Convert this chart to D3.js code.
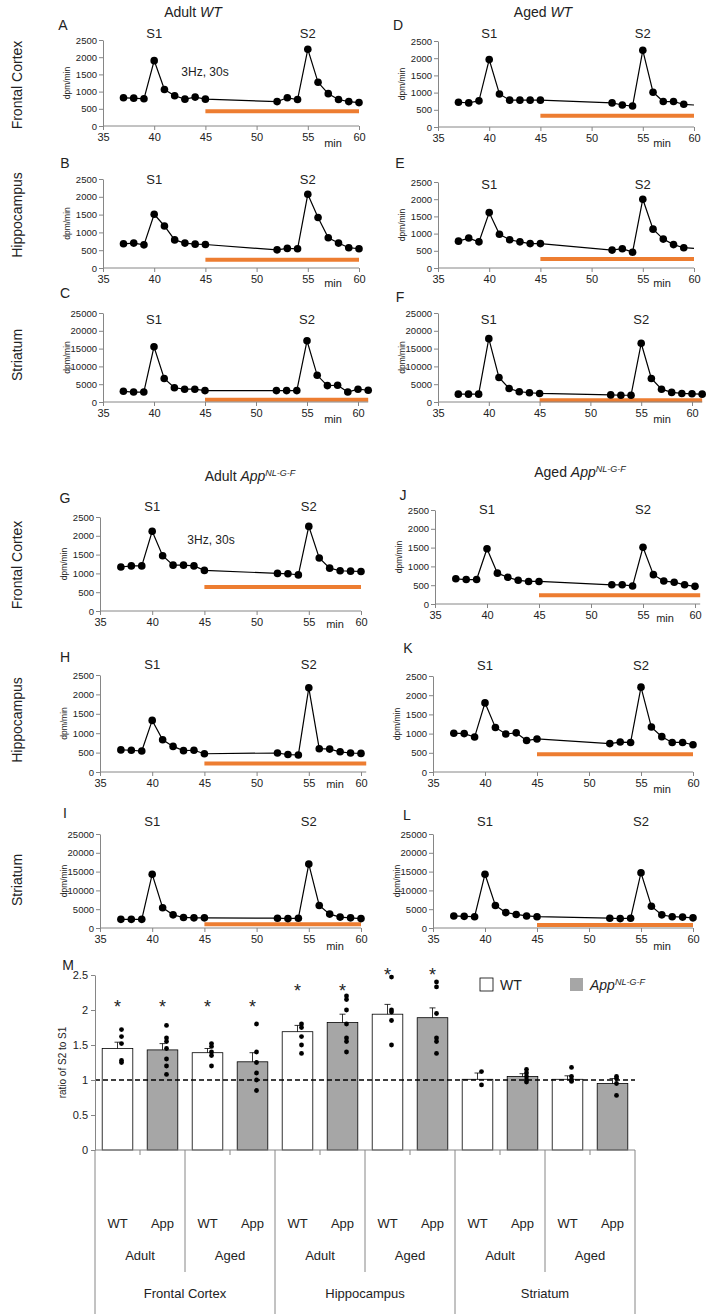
<!DOCTYPE html>
<html>
<head>
<meta charset="utf-8">
<script src="https://cdn.jsdelivr.net/npm/d3@7"></script>
<style>
  body { margin: 0; background: #fff; }
  svg { font-family: "Liberation Sans", Arial, sans-serif; }
</style>
</head>
<body>
<div class="figure"></div>
<script>
// sampling times (min)
const times = [37, 38, 39, 40, 41, 42, 43, 44, 45, 52, 53, 54, 55, 56, 57, 58, 59, 60];
const timesLong = [37, 38, 39, 40, 41, 42, 43, 44, 45, 52, 53, 54, 55, 56, 57, 58, 59, 60, 61];
const xTicks = [35, 40, 45, 50, 55, 60];
const yTicksCtx = [0, 500, 1000, 1500, 2000, 2500];
const yTicksStr = [0, 5000, 10000, 15000, 20000, 25000];

// dpm/min per fraction
const adultWtFC = [820, 810, 790, 1900, 1060, 880, 780, 840, 780, 710, 820, 770, 2230, 1270, 940, 770, 710, 680];
const agedWtFC = [720, 700, 760, 1960, 960, 780, 780, 780, 780, 700, 640, 610, 2230, 1010, 740, 740, 660, 640];
const adultWtHip = [680, 700, 650, 1510, 1180, 790, 700, 670, 660, 510, 550, 540, 2070, 1420, 850, 700, 570, 540];
const agedWtHip = [780, 870, 760, 1610, 980, 820, 760, 710, 710, 520, 560, 460, 2000, 1130, 840, 680, 590, 570];
const adultWtStr = [3000, 2800, 2800, 15500, 6600, 4000, 3600, 3600, 3200, 3200, 3200, 3200, 17200, 7500, 4600, 4700, 2800, 3600, 3300];
const agedWtStr = [2200, 2200, 2200, 17800, 6900, 3800, 2900, 2600, 2400, 2000, 1900, 1900, 16500, 6600, 3600, 2700, 2400, 2300, 2200];
const adultAppFC = [1170, 1200, 1200, 2120, 1470, 1220, 1220, 1200, 1080, 1000, 990, 960, 2250, 1410, 1140, 1070, 1060, 1050];
const agedAppFC = [670, 650, 650, 1470, 820, 710, 630, 600, 600, 510, 510, 480, 1510, 780, 610, 580, 510, 470];
const adultAppHip = [570, 560, 540, 1330, 830, 660, 550, 560, 470, 490, 450, 440, 2170, 600, 590, 520, 490, 480];
const agedAppHip = [1010, 1000, 910, 1800, 1160, 990, 1020, 820, 860, 740, 780, 770, 2210, 1170, 920, 770, 770, 710];
const adultAppStr = [2300, 2300, 2300, 14300, 5400, 3500, 2800, 2700, 2700, 2600, 2500, 2600, 17000, 6000, 3700, 2900, 2700, 2500];
const agedAppStr = [3200, 3100, 3000, 14300, 6000, 4100, 3600, 3200, 3000, 2600, 2500, 2600, 14700, 5800, 3500, 3000, 2900, 2700];

// stimulation bar level (dpm/min)
const orangeLevels = [430, 330, 230, 260, 600, 500, 640, 230, 220, 460, 1000, 800];

// panel M
const groupRegions = ["Frontal Cortex", "Hippocampus", "Striatum"];
const groupAges = ["Adult", "Aged"];
const groupGenotypes = ["WT", "App"];
const ratioMeans = [1.45, 1.43, 1.39, 1.26, 1.69, 1.82, 1.94, 1.89, 1.01, 1.05, 1.01, 0.95];
const ratioSem = [0.09, 0.09, 0.06, 0.13, 0.09, 0.12, 0.14, 0.14, 0.09, 0.04, 0.05, 0.07];
const ratioPoints = [
  [1.72, 1.62, 1.52, 1.28, 1.25],
  [1.78, 1.6, 1.55, 1.45, 1.3, 1.2, 1.08],
  [1.52, 1.48, 1.4, 1.35, 1.2],
  [1.8, 1.4, 1.25, 1.1, 1.0, 0.85],
  [1.8, 1.75, 1.62, 1.5, 1.38],
  [2.2, 2.15, 2.0, 1.8, 1.6, 1.55, 1.4],
  [2.47, 2.0, 1.97, 1.85, 1.5],
  [2.4, 2.33, 1.95, 1.6, 1.55, 1.38],
  [1.12, 0.93],
  [1.15, 1.1, 1.05, 1.0, 0.97],
  [1.18, 1.05, 1.0, 0.98],
  [1.05, 1.02, 0.95, 0.78]
];
const starLevels = [2.08, 2.08, 2.08, 2.08, 2.32, 2.32, 2.55, 2.55, null, null, null, null];
const yTicksRatio = [0, 0.5, 1, 1.5, 2, 2.5];

const W = 709, H = 1314;
const AXIS = "#868686", TXT = "#222", ORANGE = "#ED7D31";

const svg = d3.select(".figure").append("svg")
  .attr("width", W).attr("height", H)
  .attr("viewBox", `0 0 ${W} ${H}`);
svg.append("rect").attr("width", W).attr("height", H).attr("fill", "#fff");

// layout of the twelve time-course panels
const panels = [
  { id: "A", data: adultWtFC, t: times, ticks: yTicksCtx, left: 103, right: 359, top: 40, bottom: 126, xMax: 60, orange: orangeLevels[0], sY: 38, letter: [63, 30], min: [333, 147], note: [205, 76] },
  { id: "D", data: agedWtFC, t: times, ticks: yTicksCtx, left: 438, right: 694, top: 41, bottom: 127, xMax: 60, orange: orangeLevels[1], sY: 38, letter: [398, 30], min: [662, 147], bare: true },
  { id: "B", data: adultWtHip, t: times, ticks: yTicksCtx, left: 103, right: 359, top: 179, bottom: 268, xMax: 60, orange: orangeLevels[2], sY: 184, letter: [65, 168], min: [333, 287] },
  { id: "E", data: agedWtHip, t: times, ticks: yTicksCtx, left: 438, right: 694, top: 182, bottom: 268, xMax: 60, orange: orangeLevels[3], sY: 189, letter: [400, 168], min: [662, 287], bare: true },
  { id: "C", data: adultWtStr, t: timesLong, ticks: yTicksStr, left: 103, right: 358, top: 313, bottom: 402, xMax: 61, orange: orangeLevels[4], sY: 324, letter: [65, 298], min: [333, 423] },
  { id: "F", data: agedWtStr, t: timesLong, ticks: yTicksStr, left: 438, right: 692, top: 313, bottom: 402, xMax: 61, orange: orangeLevels[5], sY: 324, letter: [400, 302], min: [662, 423] },
  { id: "G", data: adultAppFC, t: times, ticks: yTicksCtx, left: 100, right: 361, top: 517, bottom: 611, xMax: 60, orange: orangeLevels[6], sY: 511, letter: [65, 503], min: [335, 628], note: [211, 544] },
  { id: "J", data: agedAppFC, t: times, ticks: yTicksCtx, left: 435, right: 695, top: 510, bottom: 604, xMax: 60.5, orange: orangeLevels[7], sY: 514, letter: [403, 500], min: [665, 622] },
  { id: "H", data: adultAppHip, t: times, ticks: yTicksCtx, left: 100, right: 361, top: 675, bottom: 772, xMax: 60.5, orange: orangeLevels[8], sY: 669, letter: [65, 662], min: [335, 788] },
  { id: "K", data: agedAppHip, t: times, ticks: yTicksCtx, left: 433, right: 693, top: 676, bottom: 772, xMax: 60, orange: orangeLevels[9], sY: 670, letter: [408, 653], min: [662, 793] },
  { id: "I", data: adultAppStr, t: times, ticks: yTicksStr, left: 100, right: 361, top: 834, bottom: 928, xMax: 60, orange: orangeLevels[10], sY: 826, letter: [65, 818], min: [335, 950] },
  { id: "L", data: agedAppStr, t: times, ticks: yTicksStr, left: 433, right: 693, top: 834, bottom: 928, xMax: 60, orange: orangeLevels[11], sY: 826, letter: [407, 820], min: [662, 950] }
];

panels.forEach(p => drawTimeCourse(p));
drawHeaders();
drawRatioPanel();

function drawTimeCourse(p) {
  const x = d3.scaleLinear().domain([35, 60]).range([p.left, p.right]);
  const yMax = p.ticks[p.ticks.length - 1];
  const y = d3.scaleLinear().domain([0, yMax]).range([p.bottom, p.top]);
  const g = svg.append("g").attr("class", "panel-" + p.id);

  // stimulation bar
  g.append("line")
    .attr("x1", x(45)).attr("x2", x(p.xMax))
    .attr("y1", y(p.orange)).attr("y2", y(p.orange))
    .attr("stroke", ORANGE).attr("stroke-width", 4);

  const yAxis = d3.axisLeft(y).tickValues(p.ticks).tickSize(4).tickSizeOuter(0).tickPadding(2)
    .tickFormat(d3.format("d"));
  g.append("g")
    .attr("transform", `translate(${p.left},0)`)
    .call(yAxis)
    .call(a => a.select(".domain").attr("stroke", AXIS))
    .call(a => a.selectAll(".tick line").attr("stroke", AXIS))
    .call(a => a.selectAll("text").attr("font-size", 9.5).attr("fill", TXT).attr("font-family", null));

  const xAxis = d3.axisBottom(x).tickValues(xTicks).tickSize(4).tickSizeOuter(0).tickPadding(3);
  g.append("g")
    .attr("transform", `translate(0,${p.bottom})`)
    .call(xAxis)
    .call(a => a.select(".domain").attr("d", `M${p.left},0H${x(p.xMax)}`).attr("stroke", AXIS))
    .call(a => a.selectAll(".tick line").attr("stroke", AXIS))
    .call(a => a.selectAll("text").attr("font-size", 11).attr("fill", TXT).attr("font-family", null));

  const pts = p.data.map((v, i) => [p.t[i], v]);
  const line = d3.line().x(d => x(d[0])).y(d => y(d[1]));
  g.append("path")
    .attr("d", line(pts))
    .attr("fill", "none").attr("stroke", "#000").attr("stroke-width", 1.2);

  const shown = p.bare ? pts.slice(0, -1) : pts;
  g.selectAll("circle")
    .data(shown)
    .enter()
    .append("circle")
    .attr("cx", d => x(d[0]))
    .attr("cy", d => y(d[1]))
    .attr("r", 3.8)
    .attr("fill", "#000");

  // labels
  g.append("text").text(p.id)
    .attr("x", p.letter[0]).attr("y", p.letter[1])
    .attr("text-anchor", "middle").attr("font-size", 14).attr("fill", TXT);
  g.append("text").text("S1")
    .attr("x", x(40)).attr("y", p.sY)
    .attr("text-anchor", "middle").attr("font-size", 13).attr("fill", TXT);
  g.append("text").text("S2")
    .attr("x", x(55)).attr("y", p.sY)
    .attr("text-anchor", "middle").attr("font-size", 13).attr("fill", TXT);
  g.append("text").text("min")
    .attr("x", p.min[0]).attr("y", p.min[1])
    .attr("text-anchor", "middle").attr("font-size", 11).attr("fill", TXT);
  g.append("text").text("dpm/min")
    .attr("transform", `translate(${p.left - 33},${(p.top + p.bottom) / 2}) rotate(-90)`)
    .attr("text-anchor", "middle").attr("font-size", 8.5).attr("fill", TXT);
  if (p.note) {
    g.append("text").text("3Hz, 30s")
      .attr("x", p.note[0]).attr("y", p.note[1])
      .attr("text-anchor", "middle").attr("font-size", 12).attr("fill", TXT);
  }
}

function drawHeaders() {
  const title = (cx, cy, pre, geno, sup) => {
    const t = svg.append("text").attr("x", cx).attr("y", cy)
      .attr("text-anchor", "middle").attr("font-size", 14).attr("fill", TXT);
    t.append("tspan").text(pre + " ");
    t.append("tspan").text(geno).attr("font-style", "italic");
    if (sup) t.append("tspan").text(sup).attr("font-style", "italic")
      .attr("font-size", 9).attr("dy", -5);
  };
  title(193, 17, "Adult", "WT");
  title(543, 17, "Aged", "WT");
  title(250, 481, "Adult", "App", "NL-G-F");
  title(580, 477, "Aged", "App", "NL-G-F");

  const rows = [["Frontal Cortex", 85], ["Hippocampus", 215], ["Striatum", 355],
                ["Frontal Cortex", 565], ["Hippocampus", 720], ["Striatum", 880]];
  rows.forEach(r => {
    svg.append("text").text(r[0])
      .attr("transform", `translate(22,${r[1]}) rotate(-90)`)
      .attr("text-anchor", "middle").attr("font-size", 14).attr("fill", TXT);
  });
}

function drawRatioPanel() {
  const left = 95, right = 635, top = 975, bottom = 1150;
  const g = svg.append("g").attr("class", "panel-M");
  const idx = d3.range(ratioMeans.length);
  const x = d3.scaleBand().domain(idx).range([left, right]).paddingInner(0.32).paddingOuter(0.16);
  const y = d3.scaleLinear().domain([0, 2.5]).range([bottom, top]);

  g.append("text").text("M").attr("x", 68).attr("y", 970)
    .attr("text-anchor", "middle").attr("font-size", 14).attr("fill", TXT);

  g.selectAll("rect.bar")
    .data(ratioMeans)
    .enter()
    .append("rect")
    .attr("class", "bar")
    .attr("x", (d, i) => x(i))
    .attr("y", d => y(d))
    .attr("width", x.bandwidth())
    .attr("height", d => bottom - y(d))
    .attr("fill", (d, i) => i % 2 === 0 ? "#fff" : "#a6a6a6")
    .attr("stroke", "#000").attr("stroke-width", 0.8);

  // error bars (up only)
  g.selectAll("path.err")
    .data(ratioMeans)
    .enter()
    .append("path")
    .attr("class", "err")
    .attr("d", (d, i) => {
      const cx = x(i) + x.bandwidth() / 2;
      return `M${cx},${y(d)}V${y(d + ratioSem[i])}M${cx - 3},${y(d + ratioSem[i])}H${cx + 3}`;
    })
    .attr("stroke", "#000").attr("stroke-width", 0.8).attr("fill", "none");

  const dots = [];
  ratioPoints.forEach((arr, i) => arr.forEach(v => dots.push([i, v])));
  g.selectAll("circle")
    .data(dots)
    .enter()
    .append("circle")
    .attr("cx", d => x(d[0]) + x.bandwidth() / 2 + 4)
    .attr("cy", d => y(d[1]))
    .attr("r", 2.4)
    .attr("fill", "#000");

  // reference line at 1
  g.append("line")
    .attr("x1", left).attr("x2", right)
    .attr("y1", y(1)).attr("y2", y(1))
    .attr("stroke", "#000").attr("stroke-width", 1.3).attr("stroke-dasharray", "5,3");

  // significance marks
  g.selectAll("text.star")
    .data(idx.filter(i => starLevels[i] !== null))
    .enter()
    .append("text")
    .attr("class", "star")
    .text("*")
    .attr("x", i => x(i) + x.bandwidth() / 2)
    .attr("y", i => y(starLevels[i]) + 9)
    .attr("text-anchor", "middle").attr("font-size", 18).attr("fill", TXT);

  const yAxis = d3.axisLeft(y).tickValues(yTicksRatio).tickSize(4).tickSizeOuter(0).tickPadding(3)
    .tickFormat(d => d);
  g.append("g")
    .attr("transform", `translate(${left},0)`)
    .call(yAxis)
    .call(a => a.select(".domain").attr("stroke", AXIS))
    .call(a => a.selectAll(".tick line").attr("stroke", AXIS))
    .call(a => a.selectAll("text").attr("font-size", 11).attr("fill", TXT).attr("font-family", null));

  g.append("text").text("ratio of S2 to S1")
    .attr("transform", `translate(66,${(top + bottom) / 2}) rotate(-90)`)
    .attr("text-anchor", "middle").attr("font-size", 10).attr("fill", TXT);

  // category table under the axis
  g.append("line").attr("x1", left).attr("x2", right).attr("y1", bottom).attr("y2", bottom)
    .attr("stroke", AXIS);
  const edge = i => left + i * (right - left) / ratioMeans.length;
  idx.forEach(i => {
    g.append("text").text(groupGenotypes[i % 2])
      .attr("x", edge(i) + (right - left) / 24).attr("y", 1228)
      .attr("text-anchor", "middle").attr("font-size", 13).attr("fill", TXT);
  });
  d3.range(6).forEach(j => {
    g.append("text").text(groupAges[j % 2])
      .attr("x", edge(j * 2 + 1)).attr("y", 1260)
      .attr("text-anchor", "middle").attr("font-size", 13).attr("fill", TXT);
  });
  d3.range(3).forEach(k => {
    g.append("text").text(groupRegions[k])
      .attr("x", edge(k * 4 + 2)).attr("y", 1298)
      .attr("text-anchor", "middle").attr("font-size", 13).attr("fill", TXT);
  });
  d3.range(13).forEach(i => {
    let y2 = 1155;
    if (i % 2 === 0) y2 = 1272;
    if (i % 4 === 0) y2 = H;
    g.append("line").attr("x1", edge(i)).attr("x2", edge(i))
      .attr("y1", bottom).attr("y2", y2).attr("stroke", AXIS);
  });

  // legend
  g.append("rect").attr("x", 480).attr("y", 978).attr("width", 13).attr("height", 13)
    .attr("fill", "#fff").attr("stroke", "#000").attr("stroke-width", 0.8);
  g.append("text").text("WT").attr("x", 500).attr("y", 990).attr("font-size", 14).attr("fill", TXT);
  g.append("rect").attr("x", 570).attr("y", 978).attr("width", 13).attr("height", 13)
    .attr("fill", "#a6a6a6");
  const lt = g.append("text").attr("x", 590).attr("y", 990).attr("font-size", 14).attr("fill", TXT)
    .attr("font-style", "italic");
  lt.append("tspan").text("App");
  lt.append("tspan").text("NL-G-F").attr("font-size", 9).attr("dy", -5);
}
</script>
</body>
</html>
